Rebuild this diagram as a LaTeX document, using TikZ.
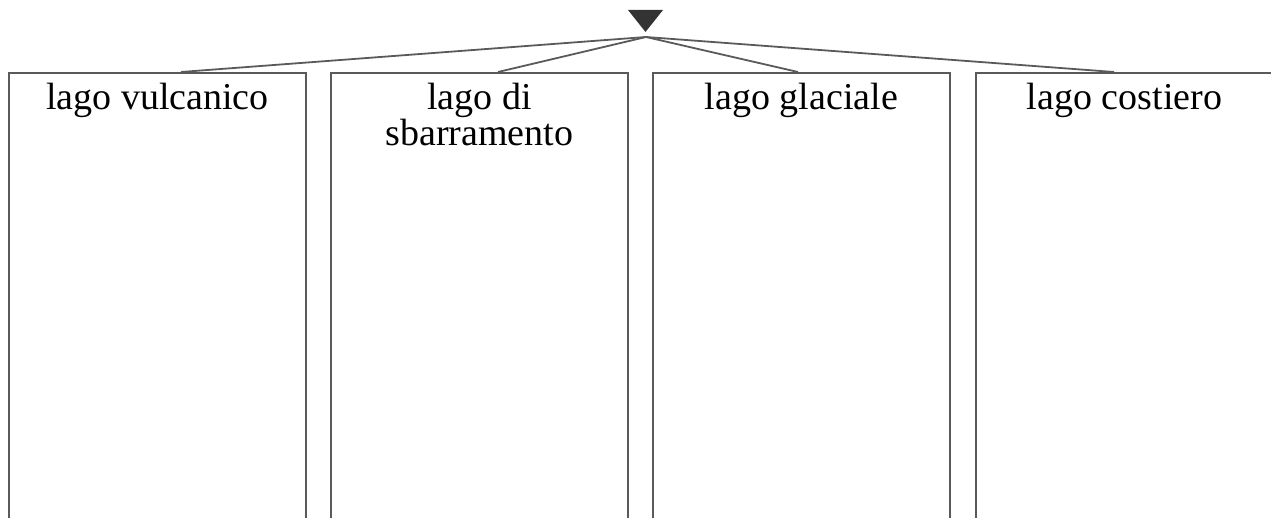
\documentclass[tikz,border=0pt]{standalone}
\usepackage{fontspec}
\setmainfont{Liberation Serif}
\usetikzlibrary{positioning}
\definecolor{linegray}{HTML}{5A5A5A}
\definecolor{markgray}{HTML}{333333}
\tikzset{
  lakebox/.style={draw=linegray, line width=2pt, minimum width=297pt,
    minimum height=480pt, anchor=north west, inner sep=0pt},
  laketext/.style={font=\fontsize{38}{34}\selectfont, align=center, inner sep=0pt},
  branch/.style={draw=linegray, line width=1.8pt}
}
\begin{document}
\begin{tikzpicture}[x=1pt,y=-1pt]
  \useasboundingbox (0,0) rectangle (1271,518);
  \clip (0,0) rectangle (1271,518);
  \node[lakebox] (vulc) at (8,72) {};
  \node[lakebox] (sbarr) at (330,72) {};
  \node[lakebox] (glac) at (652,72) {};
  \node[lakebox] (cost) at (975,72) {};

  \node[laketext, below=11pt of vulc.north] (vulcT) {lago vulcanico};
  \node[laketext, below=11pt of sbarr.north] (sbarrT) {lago di\\sbarramento};
  \node[laketext, below=11pt of glac.north] (glacT) {lago glaciale};
  \node[laketext, below=11pt of cost.north] (costT) {lago costiero};

  % marker and branches
  \fill[markgray] (628,10) -- (663,10) -- (645.5,32) -- cycle;
  \coordinate (hub) at (646,37);
  \coordinate (vulcIn) at ([xshift=23.5pt]vulc.north);
  \coordinate (sbarrIn) at ([xshift=18.5pt]sbarr.north);
  \coordinate (glacIn) at ([xshift=-3.5pt]glac.north);
  \coordinate (costIn) at ([xshift=-10.5pt]cost.north);
  \foreach \b in {vulcIn,sbarrIn,glacIn,costIn}
    \draw[branch] (hub) -- (\b);
\end{tikzpicture}
\end{document}
